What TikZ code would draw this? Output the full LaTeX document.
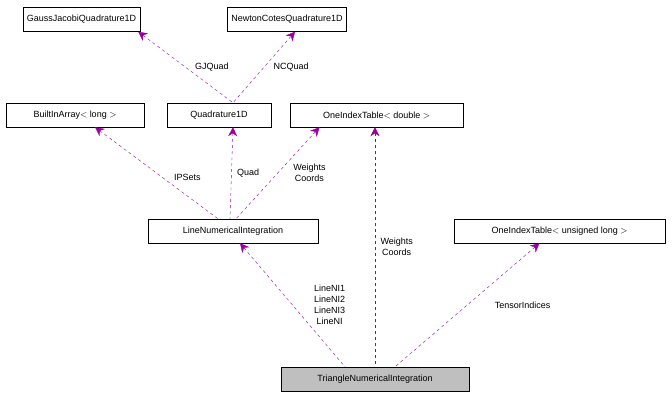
\documentclass[tikz,border=0pt]{standalone}
\usepackage{fontspec}
\setmainfont{Liberation Sans}
\usetikzlibrary{arrows.meta}

\begin{document}
\begin{tikzpicture}[
    x=1pt, y=-1pt,
    cls/.style={rectangle, draw=black, fill=white, minimum height=24pt, inner xsep=4pt, font=\fontsize{9}{10}\selectfont},
    arrow/.style={draw=violet!80!magenta, dashed, {Stealth[open, fill=violet!80!magenta, length=9pt, width=9pt]}-},
    lbl/.style={font=\fontsize{9}{11}\selectfont, align=center}
]
\useasboundingbox (0,0) rectangle (672,400);
% Classes
\node[cls, minimum width=111pt] (gauss) at (81.5,19.5) {GaussJacobiQuadrature1D};
\node[cls, minimum width=118pt] (newton) at (287,19.5) {NewtonCotesQuadrature1D};
\node[cls, minimum width=138pt] (builtin) at (75,115) {BuiltInArray$<$ long $>$};
\node[cls, minimum width=104pt] (quad) at (219,115) {Quadrature1D};
\node[cls, minimum width=173pt] (tabdouble) at (376.5,115) {OneIndexTable$<$ double $>$};
\node[cls, minimum width=170pt] (lineni) at (233,231) {LineNumericalIntegration};
\node[cls, minimum width=211pt] (tabulong) at (559.5,231) {OneIndexTable$<$ unsigned long $>$};
\node[cls, minimum width=188pt, fill=black!25] (triangle) at (375,379) {TriangleNumericalIntegration};

% Arrows
\draw[arrow] ([xshift=-2pt]gauss.south east) -- node[lbl, right=6pt] {GJQuad} ([xshift=14pt]quad.north);
\draw[arrow] ([xshift=8pt]newton.south) -- node[lbl, right=6pt] {NCQuad} ([xshift=14pt]quad.north);
\draw[arrow] ([xshift=20pt]builtin.south) -- node[lbl, right, xshift=14pt, yshift=-4pt] {IPSets} ([xshift=-15pt]lineni.north);
\draw[arrow] ([xshift=14pt]quad.south) -- node[lbl, right=2pt] {Quad} ([xshift=-3pt]lineni.north);
\draw[arrow] ([xshift=-57pt]tabdouble.south) -- node[lbl, right=12pt] {Weights\\Coords} ([xshift=3pt]lineni.north);
\draw[arrow] ([xshift=7pt]lineni.south) -- node[lbl, right=18pt] {LineNI1\\LineNI2\\LineNI3\\LineNI} ([xshift=-30pt]triangle.north);
\draw[arrow] (tabdouble.south -| triangle.north) -- node[lbl, right=2pt] {Weights\\Coords} (triangle.north);
\draw[arrow] ([xshift=-20pt]tabulong.south) -- node[lbl, right=24pt] {TensorIndices} ([xshift=20pt]triangle.north);
\end{tikzpicture}
\end{document}
